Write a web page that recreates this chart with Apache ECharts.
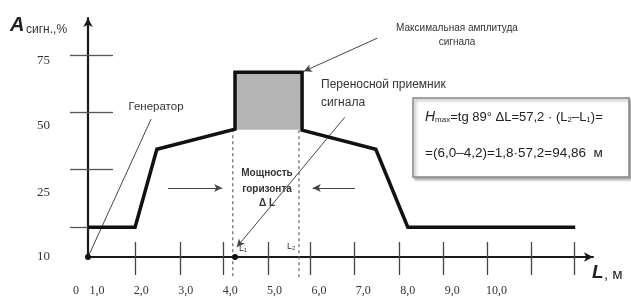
<!DOCTYPE html>
<html><head><meta charset="utf-8">
<script src="https://cdn.jsdelivr.net/npm/echarts@6/dist/echarts.min.js"></script>
<style>html,body{margin:0;padding:0;background:#fff}#c{width:631px;height:298px}</style>
</head><body><div id="c"></div>
<script>
// ---- data ----
const curveX = [0.8, 1.86, 2.35, 4.11, 4.11, 5.62, 5.62, 7.28, 8.0, 11.77];
const curveY = [0, 0, 33.9, 42.6, 67.4, 67.4, 42.2, 33.9, 0, 0];
const boxX = [4.11, 5.62];
const boxY = [42.4, 67.4];
const xTickValues = [1.86, 2.87, 3.84, 4.85, 5.8, 6.79, 7.8, 8.79, 9.78, 10.77, 11.74];
const xLabelValues = [0.8, 1, 2, 3, 4, 5, 6, 7, 8, 9, 10];
const xLabelTexts = ['0', '1,0', '2,0', '3,0', '4,0', '5,0', '6,0', '7,0', '8,0', '9,0', '10,0'];
const yTickValues = [0, 25, 50, 75];
const yLabelValues = [72.6, 44.3, 15.2, -13];
const yLabelTexts = ['75', '50', '25', '10'];
const dashedX = [4.06, 5.55];
const dashedTop = [42.6, 42.2];
const dashedBottom = -22;
const L1x = 4.11;

const xMin = 0.8, xMax = 12.17, yMin = -13, yMax = 91;

const chart = echarts.init(document.getElementById('c'));
const serif = 'Liberation Serif';
const txt = '#333';

function arrowLine(a, b, arrow) {
  return [{coord: a, symbol: 'none'}, {coord: b, symbol: arrow ? 'arrow' : 'none', symbolSize: [6, 8]}];
}

const dashedSeries = dashedX.map((x, i) => ({
  type: 'line', clip: false, symbol: 'none', z: 3,
  data: [[x, dashedTop[i]], [x, dashedBottom]],
  lineStyle: {color: '#666', width: 1.2, type: [3, 3]}
}));

chart.setOption({
  animation: false,
  backgroundColor: '#fff',
  grid: {left: 88, right: 38, top: 18, bottom: 41},
  xAxis: [{
    type: 'value', min: xMin, max: xMax,
    axisLine: {show: true, onZero: false, lineStyle: {color: '#1a1a1a', width: 2}, symbol: ['none', 'arrow'], symbolSize: [7, 9]},
    axisTick: {show: true, length: 18, customValues: xTickValues, lineStyle: {color: '#444', width: 1.3}},
    axisLabel: {
      customValues: xLabelValues, margin: 28, color: txt, fontFamily: serif, fontSize: 12,
      formatter: v => { const i = xLabelValues.findIndex(t => Math.abs(t - v) < 1e-6); return i === 0 ? '{z|0}' : xLabelTexts[i]; },
      rich: {z: {padding: [0, 24, 0, 0], fontFamily: serif, fontSize: 12, color: txt}}
    },
    splitLine: {show: false}
  }, {
    type: 'value', min: xMin, max: xMax, position: 'bottom', offset: 0,
    axisLine: {show: false, onZero: false},
    axisTick: {show: true, inside: true, length: 15, customValues: xTickValues, lineStyle: {color: '#444', width: 1.3}},
    axisLabel: {show: false}, splitLine: {show: false}
  }],
  yAxis: [{
    type: 'value', min: yMin, max: yMax,
    axisLine: {show: true, onZero: false, lineStyle: {color: '#1a1a1a', width: 2.2}, symbol: ['none', 'arrow'], symbolSize: [7, 9]},
    axisTick: {show: true, length: 18, customValues: yTickValues, lineStyle: {color: '#555', width: 1.3}},
    axisLabel: {
      customValues: yLabelValues, margin: 38, color: txt, fontFamily: serif, fontSize: 13,
      formatter: v => yLabelTexts[yLabelValues.findIndex(t => Math.abs(t - v) < 1e-6)]
    },
    splitLine: {show: false}
  }, {
    type: 'value', min: yMin, max: yMax, position: 'left', offset: 0,
    axisLine: {show: false, onZero: false},
    axisTick: {show: true, inside: true, length: 25, customValues: yTickValues, lineStyle: {color: '#555', width: 1.3}},
    axisLabel: {show: false}, splitLine: {show: false}
  }],
  series: [{
    type: 'line', clip: false, z: 5,
    data: curveX.map((x, i) => [x, curveY[i]]),
    symbol: 'none',
    lineStyle: {color: '#111', width: 3.5, join: 'miter'},
    markArea: {
      silent: true,
      itemStyle: {color: '#b5b5b5'},
      data: [[{coord: [boxX[0], boxY[0]]}, {coord: [boxX[1], boxY[1]]}]]
    },
    markLine: {
      silent: true, symbol: 'none', label: {show: false}, animation: false,
      lineStyle: {color: '#444', width: 1, type: 'solid'},
      data: [
        arrowLine([2.22, 47], [0.82, -12.2], false),
        arrowLine([7.31, 82.2], [5.66, 67.8], true),
        arrowLine([6.58, 47.8], [4.15, -8.7], true),
        arrowLine([2.6, 17], [3.82, 17], true),
        arrowLine([6.81, 17], [5.86, 17], true)
      ]
    },
    markPoint: {
      silent: true, symbol: 'circle', symbolSize: 6, label: {show: false},
      itemStyle: {color: '#111'},
      data: [{coord: [xMin, yMin]}, {coord: [L1x, yMin]}]
    }
  }].concat(dashedSeries),
  graphic: [
    {type: 'text', left: 10, top: 15, style: {text: 'A', font: 'italic bold 20px Liberation Sans', fill: '#222'}},
    {type: 'text', x: 26, y: 30, style: {text: 'сигн.,%', font: '12px Liberation Sans', fill: '#333', verticalAlign: 'middle'}},
    {type: 'text', x: 592, y: 273, style: {text: 'L', font: 'italic bold 19px Liberation Sans', fill: '#222', verticalAlign: 'middle'}},
    {type: 'text', x: 604, y: 275, style: {text: ', м', font: '15px Liberation Sans', fill: '#222', verticalAlign: 'middle'}},
    {type: 'text', x: 156, y: 107, style: {text: 'Генератор', font: '11.5px Liberation Sans', fill: txt, align: 'center', verticalAlign: 'middle'}},
    {type: 'text', x: 457, y: 28, style: {text: 'Максимальная амплитуда', font: '10px Liberation Sans', fill: txt, align: 'center', verticalAlign: 'middle'}},
    {type: 'text', x: 457, y: 42, style: {text: 'сигнала', font: '10px Liberation Sans', fill: txt, align: 'center', verticalAlign: 'middle'}},
    {type: 'text', x: 321, y: 85, style: {text: 'Переносной приемник', font: '12px Liberation Sans', fill: txt, verticalAlign: 'middle'}},
    {type: 'text', x: 321, y: 103, style: {text: 'сигнала', font: '12px Liberation Sans', fill: txt, verticalAlign: 'middle'}},
    {type: 'text', x: 267, y: 173, style: {text: 'Мощность', font: 'bold 10px Liberation Sans', fill: txt, align: 'center', verticalAlign: 'middle'}},
    {type: 'text', x: 267, y: 189, style: {text: 'горизонта', font: 'bold 10px Liberation Sans', fill: txt, align: 'center', verticalAlign: 'middle'}},
    {type: 'text', x: 267, y: 203, style: {text: 'Δ L', font: 'bold 10px Liberation Sans', fill: txt, align: 'center', verticalAlign: 'middle'}},
    {type: 'text', x: 239, y: 249, style: {text: 'L₁', font: '9px Liberation Sans', fill: txt, verticalAlign: 'middle'}},
    {type: 'text', x: 287, y: 247, style: {text: 'L₂', font: '9px Liberation Sans', fill: txt, verticalAlign: 'middle'}},
    {type: 'rect', shape: {x: 413, y: 98, width: 216, height: 79},
      style: {fill: '#fff', stroke: '#888', lineWidth: 1.5, shadowBlur: 3, shadowOffsetX: 2, shadowOffsetY: 2, shadowColor: 'rgba(0,0,0,0.35)'}},
    {type: 'text', x: 425, y: 117, style: {
      text: '{i|H}{s|max}=tg 89° ΔL=57,2 · (L{s|2}–L{s|1})=',
      font: '13px Liberation Sans', fill: '#222', verticalAlign: 'middle',
      rich: {i: {fontStyle: 'italic', fontSize: 14, fill: '#222'}, s: {fontSize: 8, fill: '#222', verticalAlign: 'bottom', padding: [5, 0, 0, 0]}}
    }},
    {type: 'text', x: 425, y: 153, style: {text: '=(6,0–4,2)=1,8·57,2=94,86  м', font: '13.5px Liberation Sans', fill: '#222', verticalAlign: 'middle'}}
  ]
});
</script></body></html>
